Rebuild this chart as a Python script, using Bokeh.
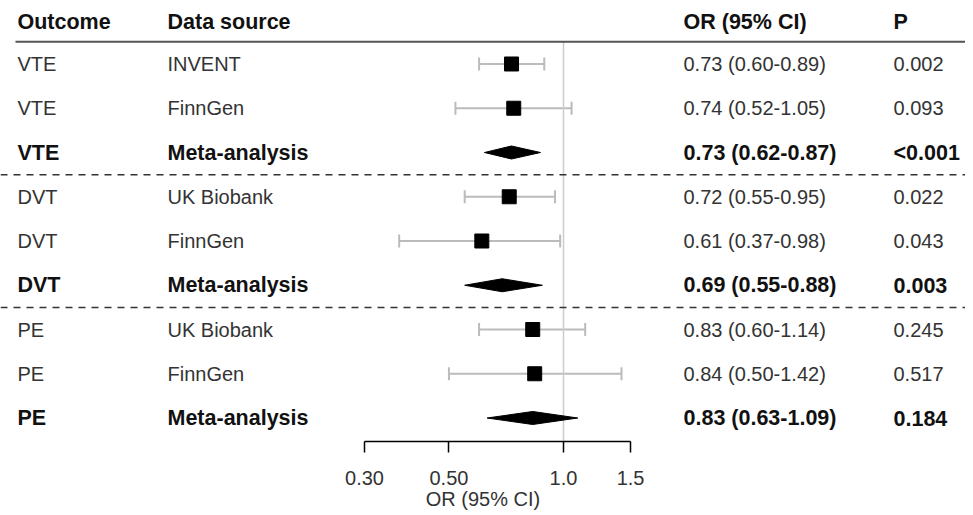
import math
from bokeh.plotting import figure
from bokeh.models import (ColumnDataSource, LabelSet, Label, Span, Whisker, TeeHead,
                          FixedTicker, Range1d)
from bokeh.core.properties import value
from bokeh.embed import file_html
from bokeh.resources import INLINE

# ---------------- data ----------------
outcomes = ["VTE", "VTE", "VTE", "DVT", "DVT", "DVT", "PE", "PE", "PE"]
sources = ["INVENT", "FinnGen", "Meta-analysis",
           "UK Biobank", "FinnGen", "Meta-analysis",
           "UK Biobank", "FinnGen", "Meta-analysis"]
or_est = [0.73, 0.74, 0.73, 0.72, 0.61, 0.69, 0.83, 0.84, 0.83]
ci_lo = [0.60, 0.52, 0.62, 0.55, 0.37, 0.55, 0.60, 0.50, 0.63]
ci_hi = [0.89, 1.05, 0.87, 0.95, 0.98, 0.88, 1.14, 1.42, 1.09]
p_vals = ["0.002", "0.093", "<0.001", "0.022", "0.043", "0.003", "0.245", "0.517", "0.184"]
is_meta = [False, False, True, False, False, True, False, False, True]
tick_vals = [0.30, 0.50, 1.0, 1.5]
tick_labels = ["0.30", "0.50", "1.0", "1.5"]
headers = ["Outcome", "Data source", "OR (95% CI)", "P"]

FONT = "Liberation Sans"
n = len(outcomes)
rows = list(range(n))
or_text = [f"{e:.2f} ({l:.2f}-{h:.2f})" for e, l, h in zip(or_est, ci_lo, ci_hi)]

norm_idx = [i for i in rows if not is_meta[i]]
meta_idx = [i for i in rows if is_meta[i]]

def sub(lst, idx):
    return [lst[i] for i in idx]

norm_txt = ColumnDataSource(dict(row=sub(rows, norm_idx), outcome=sub(outcomes, norm_idx),
                                 source=sub(sources, norm_idx), ortext=sub(or_text, norm_idx),
                                 p=sub(p_vals, norm_idx)))
meta_txt = ColumnDataSource(dict(row=sub(rows, meta_idx), outcome=sub(outcomes, meta_idx),
                                 source=sub(sources, meta_idx), ortext=sub(or_text, meta_idx),
                                 p=sub(p_vals, meta_idx)))

study_src = ColumnDataSource(dict(row=sub(rows, norm_idx), est=sub(or_est, norm_idx),
                                  lo=sub(ci_lo, norm_idx), hi=sub(ci_hi, norm_idx)))
half_h = 0.147
dia_xs = [[ci_lo[i], or_est[i], ci_hi[i], or_est[i]] for i in meta_idx]
dia_ys = [[rows[i], rows[i] - half_h, rows[i], rows[i] + half_h] for i in meta_idx]

# ---------------- figure ----------------
X0, X1 = 0.03317, 11.38          # log-x range spanning the full frame width
PX_PER_LN = 965 / math.log(X1 / X0)
p = figure(frame_width=965, frame_height=441, x_axis_type="log",
           x_range=Range1d(X0, X1), y_range=Range1d(8.531, -1.435),
           output_backend="svg", toolbar_location=None, min_border=0)
p.outline_line_color = None
p.grid.visible = False
p.yaxis.visible = False
p.background_fill_color = "white"

# reference line at OR = 1
p.segment(x0=1, x1=1, y0=-0.5, y1=8.531, line_color="#cccccc", line_width=1.5)

# header rule (starts ~15px in) and group separators
hdr_x0 = X0 * math.exp(15 / PX_PER_LN)
p.segment(x0=hdr_x0, x1=X1, y0=-0.5, y1=-0.5, line_color="#555555", line_width=2)
for loc in (2.5, 5.5):
    p.add_layout(Span(location=loc, dimension="width", line_color="#333333",
                      line_width=1.5, line_dash="7 6"))

# error bars
wh = Whisker(base="row", lower="lo", upper="hi", dimension="width", source=study_src,
             line_color="#bbbbbb", line_width=2, level="underlay",
             upper_head=TeeHead(size=13, line_color="#bbbbbb", line_width=2),
             lower_head=TeeHead(size=13, line_color="#bbbbbb", line_width=2))
p.add_layout(wh)

# point estimates
p.scatter(x="est", y="row", source=study_src, marker="square", size=14,
          fill_color="black", line_color="black")

# meta diamonds
p.patches(xs=dia_xs, ys=dia_ys, fill_color="black", line_color="black")

# axis
ax = p.xaxis[0]
ax.bounds = (tick_vals[0], tick_vals[-1])
ax.ticker = FixedTicker(ticks=tick_vals)
ax.major_label_overrides = {v: t for v, t in zip(tick_vals, tick_labels)}
ax.minor_tick_line_color = None
ax.major_tick_in = 0
ax.major_tick_out = 11
ax.axis_line_color = "black"
ax.axis_line_width = 1.5
ax.major_tick_line_color = "black"
ax.major_tick_line_width = 1.5
ax.major_label_text_font = FONT
ax.major_label_text_font_size = "20px"
ax.major_label_text_color = "#333333"
ax.major_label_standoff = 18
ax.axis_label = "OR (95% CI)"
ax.axis_label_text_font = FONT
ax.axis_label_text_font_style = "normal"
ax.axis_label_text_font_size = "20px"
ax.axis_label_text_color = "#333333"
ax.axis_label_standoff = 0

# table text columns (screen x)
col_x = [17, 167, 683, 893]
col_fields = ["outcome", "source", "ortext", "p"]
for cx, fld in zip(col_x, col_fields):
    p.add_layout(LabelSet(x=cx, y="row", x_units="screen", text=fld, source=norm_txt,
                          text_font=value(FONT), text_font_size="20px",
                          text_color="#333333", text_baseline="middle", text_align="left"))
    p.add_layout(LabelSet(x=cx, y="row", x_units="screen", text=fld, source=meta_txt,
                          text_font=value(FONT), text_font_size="21.5px",
                          text_font_style="bold",
                          text_color="#111111", text_baseline="middle", text_align="left"))
for cx, h in zip(col_x, headers):
    p.add_layout(Label(x=cx, y=-0.95, x_units="screen", text=h, text_font=FONT,
                       text_font_size="21.5px", text_font_style="bold",
                       text_color="#111111", text_baseline="middle"))

open("out.html", "w").write(file_html(p, INLINE))
